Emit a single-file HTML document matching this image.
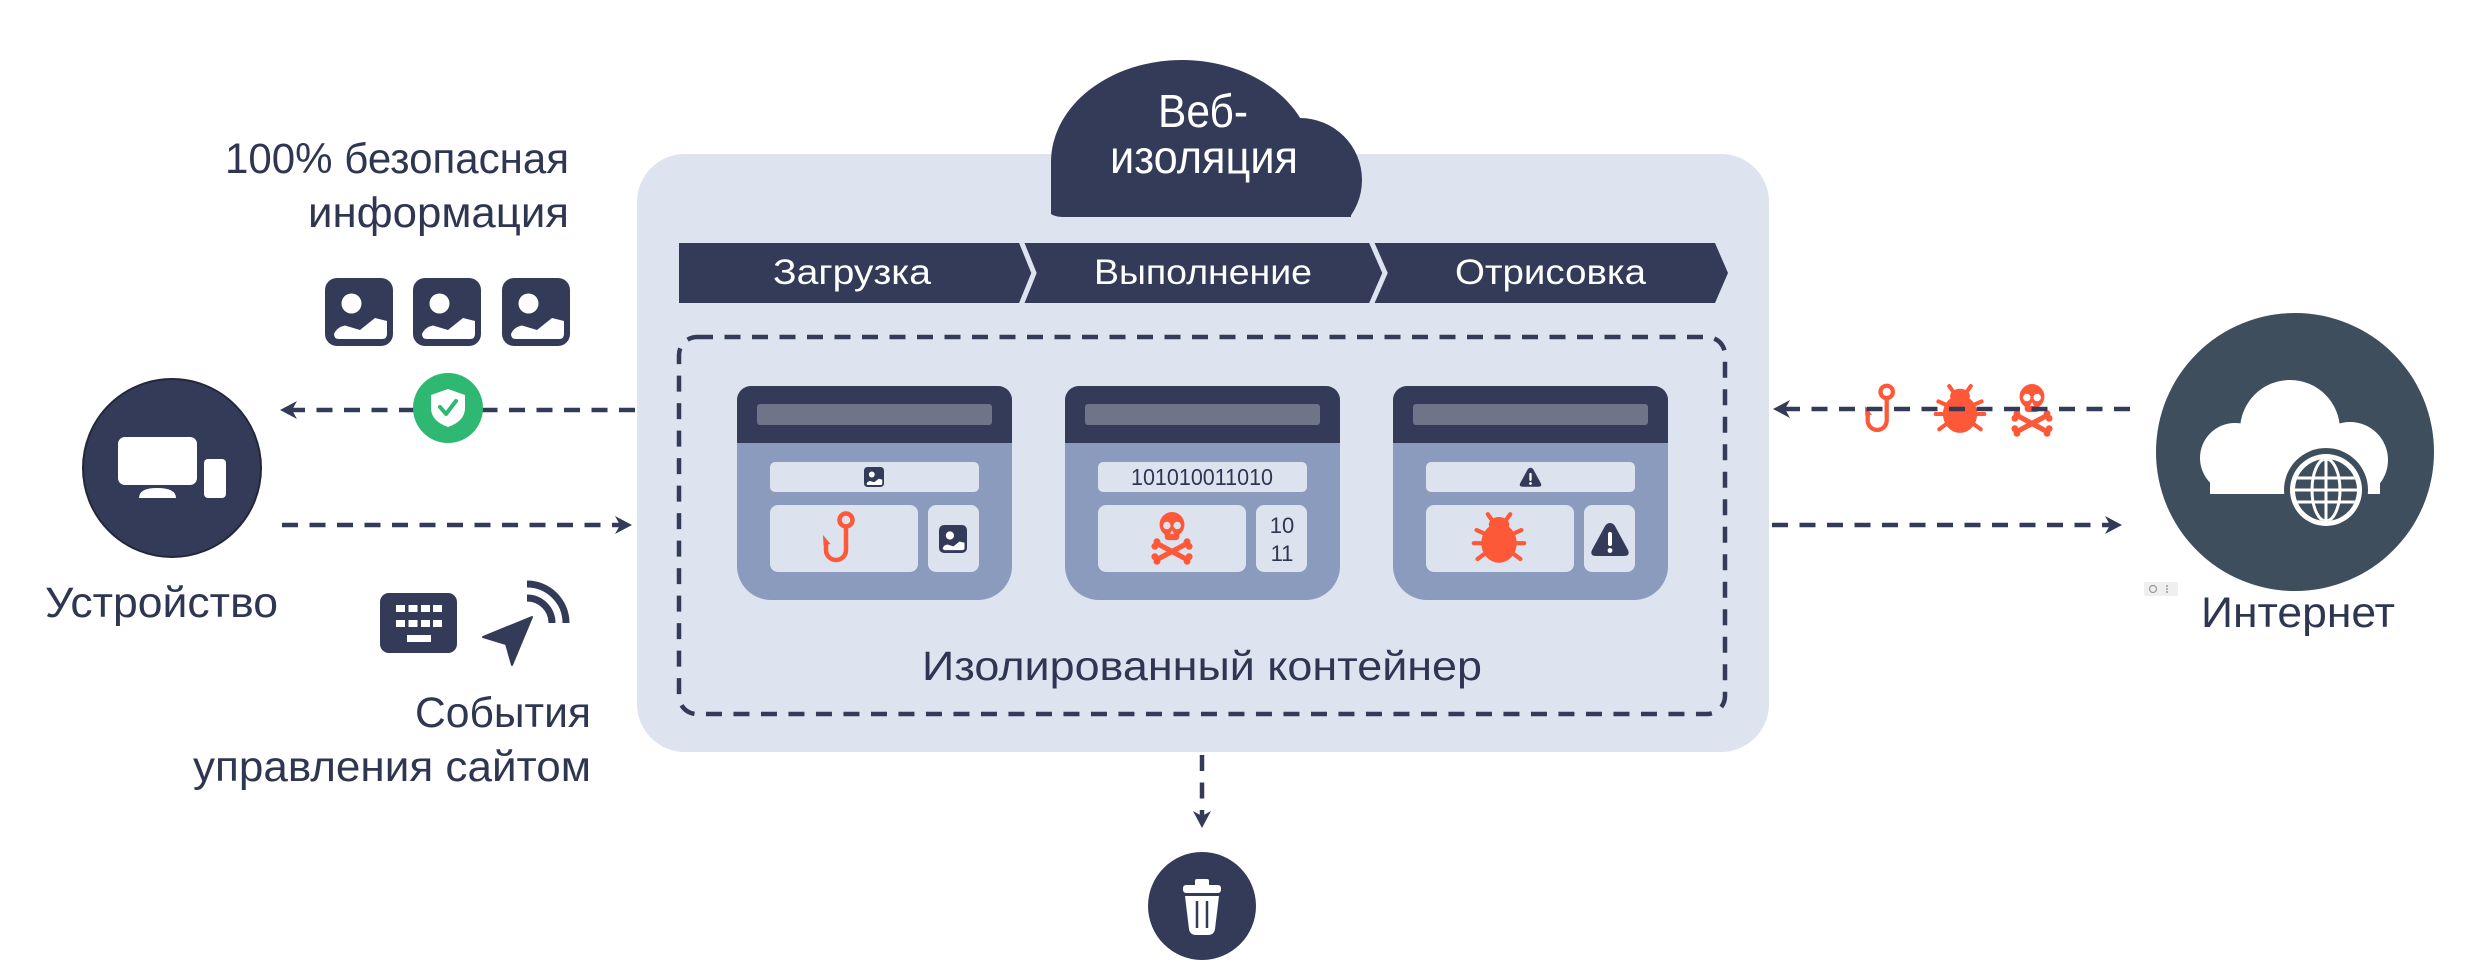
<!DOCTYPE html>
<html><head><meta charset="utf-8"><style>
html,body{margin:0;padding:0;background:#fff;}
svg{display:block;}
text{font-family:"Liberation Sans",sans-serif;}
</style></head><body>
<svg width="2485" height="970" viewBox="0 0 2485 970" xmlns="http://www.w3.org/2000/svg">
<defs>
 <symbol id="img" viewBox="0 0 68 68">
   <rect width="68" height="68" rx="12" fill="#333b58"/>
   <circle cx="26.5" cy="25.5" r="10" fill="#fff"/>
   <path d="M9 56 Q12 49 20 47.5 L35 52 L50 40 L62 43 L62 56 Q62 61 57 61 L14 61 Q9 61 9 56 Z" fill="#fff"/>
 </symbol>
 <symbol id="warn" viewBox="0 0 40 36">
   <path d="M20 1 Q23.5 1 25.5 5 L38 28 Q40.5 34 34 34 L6 34 Q-0.5 34 2 28 L14.5 5 Q16.5 1 20 1 Z" fill="#333b58"/>
   <rect x="18" y="10" width="4" height="14" rx="2" fill="#fff"/>
   <circle cx="20" cy="28.5" r="2.4" fill="#fff"/>
 </symbol>
 <symbol id="hook" viewBox="0 0 40 54">
   <circle cx="26" cy="9" r="6.5" fill="none" stroke="#fd5837" stroke-width="4.5"/>
   <path d="M26 15.5 L26 39 A10 10 0 0 1 6 39 L6 31" fill="none" stroke="#fd5837" stroke-width="4.5" stroke-linecap="round"/>
   <path d="M3 24 L10.5 33 L3.5 34 Z" fill="#fd5837"/>
 </symbol>
 <symbol id="bug" viewBox="0 0 60 56">
   <g stroke="#fd5837" stroke-width="4.5" stroke-linecap="round">
     <line x1="23" y1="9" x2="18" y2="2"/><line x1="37" y1="9" x2="42" y2="2"/>
     <line x1="15" y1="23" x2="6" y2="19"/><line x1="45" y1="23" x2="54" y2="19"/>
     <line x1="13" y1="33" x2="3" y2="33"/><line x1="47" y1="33" x2="57" y2="33"/>
     <line x1="15" y1="44" x2="7" y2="50"/><line x1="45" y1="44" x2="53" y2="50"/>
   </g>
   <ellipse cx="30" cy="13" rx="11" ry="8" fill="#fd5837"/>
   <ellipse cx="30" cy="33" rx="19" ry="21" fill="#fd5837"/>
 </symbol>
 <symbol id="skull" viewBox="0 0 40 52">
   <g stroke="#fd5837" stroke-width="5" stroke-linecap="round">
     <line x1="7" y1="32" x2="33" y2="46"/><line x1="33" y1="32" x2="7" y2="46"/>
   </g>
   <g fill="#fd5837">
     <circle cx="5.5" cy="29.5" r="3.3"/><circle cx="3.5" cy="34" r="3.3"/>
     <circle cx="34.5" cy="29.5" r="3.3"/><circle cx="36.5" cy="34" r="3.3"/>
     <circle cx="5.5" cy="48.5" r="3.3"/><circle cx="3.5" cy="44" r="3.3"/>
     <circle cx="34.5" cy="48.5" r="3.3"/><circle cx="36.5" cy="44" r="3.3"/>
     <circle cx="20" cy="13" r="12"/>
     <rect x="13" y="17" width="14" height="11" rx="3"/>
   </g>
   <circle cx="15" cy="14" r="3.6" fill="currentColor"/>
   <circle cx="25" cy="14" r="3.6" fill="currentColor"/>
   <path d="M20 18.5 L22 22 L18 22 Z" fill="currentColor"/>
 </symbol>
 <clipPath id="cloudclip"><rect x="1040" y="0" width="340" height="217" rx="22"/></clipPath>
 <clipPath id="icloudclip"><rect x="2195" y="360" width="200" height="134" rx="16"/></clipPath>
 <clipPath id="globeclip"><circle cx="2326" cy="490" r="31"/></clipPath>
</defs>

<!-- main container -->
<rect x="637" y="154" width="1132" height="598" rx="48" fill="#dde4ef"/>

<!-- cloud -->
<g clip-path="url(#cloudclip)" fill="#333b58">
  <ellipse cx="1182" cy="162" rx="131" ry="102"/>
  <circle cx="1300" cy="180" r="62"/>
  <rect x="1051" y="160" width="300" height="80"/>
</g>
<text x="1158" y="127" font-size="46" fill="#fff" textLength="90" lengthAdjust="spacingAndGlyphs">Веб-</text>
<text x="1110" y="173" font-size="46" fill="#fff" textLength="188" lengthAdjust="spacingAndGlyphs">изоляция</text>

<!-- chevron bar -->
<path d="M679 243 H1715 L1728 273 L1715 303 H679 Z" fill="#333b58"/>
<polyline points="1021,241 1034,273 1021,305" fill="none" stroke="#dde4ef" stroke-width="5"/>
<polyline points="1371,241 1385,273 1371,305" fill="none" stroke="#dde4ef" stroke-width="5"/>
<text x="773" y="284" font-size="35" fill="#fff" textLength="158" lengthAdjust="spacingAndGlyphs">Загрузка</text>
<text x="1094" y="284" font-size="35" fill="#fff" textLength="218" lengthAdjust="spacingAndGlyphs">Выполнение</text>
<text x="1455" y="284" font-size="35" fill="#fff" textLength="191" lengthAdjust="spacingAndGlyphs">Отрисовка</text>

<!-- inner dashed container -->
<rect x="679" y="337" width="1046" height="377" rx="18" fill="none" stroke="#333b58" stroke-width="4.5" stroke-dasharray="16 11.5"/>

<!-- windows -->
<g>
  <path d="M751 386 H998 A14 14 0 0 1 1012 400 V566 A34 34 0 0 1 978 600 H771 A34 34 0 0 1 737 566 V400 A14 14 0 0 1 751 386 Z" fill="#8a9bbd"/>
  <path d="M737 400 A14 14 0 0 1 751 386 H998 A14 14 0 0 1 1012 400 V443 H737 Z" fill="#333b58"/>
  <rect x="757" y="404" width="235" height="21" rx="3" fill="#6e7589"/>
  <rect x="770" y="462" width="209" height="30" rx="5" fill="#dce2ee"/>
  <rect x="770" y="505" width="148" height="67" rx="8" fill="#dce2ee"/>
  <rect x="928" y="505" width="51" height="67" rx="8" fill="#dce2ee"/>
  <use href="#img" x="864" y="467" width="20" height="20"/>
  <use href="#hook" x="820" y="511" width="40" height="54"/>
  <use href="#img" x="939" y="525" width="28" height="28"/>
</g>
<g>
  <path d="M1079 386 H1326 A14 14 0 0 1 1340 400 V566 A34 34 0 0 1 1306 600 H1099 A34 34 0 0 1 1065 566 V400 A14 14 0 0 1 1079 386 Z" fill="#8a9bbd"/>
  <path d="M1065 400 A14 14 0 0 1 1079 386 H1326 A14 14 0 0 1 1340 400 V443 H1065 Z" fill="#333b58"/>
  <rect x="1085" y="404" width="235" height="21" rx="3" fill="#6e7589"/>
  <rect x="1098" y="462" width="209" height="30" rx="5" fill="#dce2ee"/>
  <rect x="1098" y="505" width="148" height="67" rx="8" fill="#dce2ee"/>
  <rect x="1256" y="505" width="51" height="67" rx="8" fill="#dce2ee"/>
  <text x="1131" y="485" font-size="23" fill="#2f3652" textLength="142" lengthAdjust="spacingAndGlyphs">101010011010</text>
  <use href="#skull" x="1151" y="511" width="42" height="54" color="#dce2ee"/>
  <text x="1282" y="533" font-size="22" fill="#2f3652" text-anchor="middle">10</text>
  <text x="1282" y="561" font-size="22" fill="#2f3652" text-anchor="middle">11</text>
</g>
<g>
  <path d="M1407 386 H1654 A14 14 0 0 1 1668 400 V566 A34 34 0 0 1 1634 600 H1427 A34 34 0 0 1 1393 566 V400 A14 14 0 0 1 1407 386 Z" fill="#8a9bbd"/>
  <path d="M1393 400 A14 14 0 0 1 1407 386 H1654 A14 14 0 0 1 1668 400 V443 H1393 Z" fill="#333b58"/>
  <rect x="1413" y="404" width="235" height="21" rx="3" fill="#6e7589"/>
  <rect x="1426" y="462" width="209" height="30" rx="5" fill="#dce2ee"/>
  <rect x="1426" y="505" width="148" height="67" rx="8" fill="#dce2ee"/>
  <rect x="1584" y="505" width="51" height="67" rx="8" fill="#dce2ee"/>
  <use href="#warn" x="1519" y="467" width="23" height="21"/>
  <use href="#bug" x="1471" y="512" width="56" height="53"/>
  <use href="#warn" x="1590" y="522" width="40" height="36"/>
</g>
<text x="922" y="680" font-size="41" fill="#2f3652" textLength="560" lengthAdjust="spacingAndGlyphs">Изолированный контейнер</text>

<!-- down arrow + trash -->
<line x1="1202" y1="755" x2="1202" y2="816" stroke="#333b58" stroke-width="4.5" stroke-dasharray="16 11.5"/>
<path d="M1202 828 L1193 811 L1202 816 L1211 811 Z" fill="#333b58"/>
<circle cx="1202" cy="906" r="54" fill="#333b58"/>
<g fill="#fff">
  <rect x="1195" y="879" width="14" height="8" rx="2"/>
  <rect x="1183" y="885" width="38" height="8" rx="3"/>
  <path d="M1185 896 H1219 L1215 929 Q1214 935 1208 935 H1196 Q1190 935 1189 929 Z"/>
</g>
<line x1="1197" y1="901" x2="1197" y2="928" stroke="#333b58" stroke-width="2.5"/>
<line x1="1207" y1="901" x2="1207" y2="928" stroke="#333b58" stroke-width="2.5"/>

<!-- left side -->
<text x="225" y="173" font-size="43" fill="#2f3652" textLength="344" lengthAdjust="spacingAndGlyphs">100% безопасная</text>
<text x="308" y="227" font-size="43" fill="#2f3652" textLength="261" lengthAdjust="spacingAndGlyphs">информация</text>
<use href="#img" x="325" y="278" width="68" height="68"/>
<use href="#img" x="413" y="278" width="68" height="68"/>
<use href="#img" x="502" y="278" width="68" height="68"/>

<line x1="635" y1="410" x2="292" y2="410" stroke="#333b58" stroke-width="4.5" stroke-dasharray="16 11.5"/>
<path d="M280 410 L297 401 L292 410 L297 419 Z" fill="#333b58"/>
<circle cx="448" cy="408" r="35" fill="#2fb872"/>
<path d="M448 389 L465 395 L465 408 Q465 421 448 427 Q431 421 431 408 L431 395 Z" fill="#fff"/>
<path d="M440 407 L446 414 L456 401" fill="none" stroke="#2fb872" stroke-width="4" stroke-linecap="round" stroke-linejoin="round"/>

<circle cx="172" cy="468" r="89" fill="#333b58" stroke="#22283a" stroke-width="2"/>
<rect x="118" y="437" width="79" height="48" rx="7" fill="#fff"/>
<path d="M139 498 Q139 488 157 488 Q176 488 176 498 Z" fill="#fff"/>
<rect x="204" y="459" width="22" height="39" rx="4" fill="#fff"/>
<text x="45" y="617" font-size="43" fill="#2f3652" textLength="233" lengthAdjust="spacingAndGlyphs">Устройство</text>

<line x1="282" y1="525" x2="620" y2="525" stroke="#333b58" stroke-width="4.5" stroke-dasharray="16 11.5"/>
<path d="M632 525 L615 516 L620 525 L615 534 Z" fill="#333b58"/>

<rect x="380" y="593" width="77" height="60" rx="9" fill="#333b58"/>
<g fill="#fff">
  <rect x="396" y="605" width="9" height="7"/><rect x="408.5" y="605" width="9" height="7"/><rect x="421" y="605" width="9" height="7"/><rect x="433" y="605" width="9" height="7"/>
  <rect x="396" y="620" width="9" height="7"/><rect x="408.5" y="620" width="9" height="7"/><rect x="421" y="620" width="9" height="7"/><rect x="433" y="620" width="9" height="7"/>
  <rect x="407" y="635" width="24" height="7"/>
</g>
<path d="M483 637 L532 617 L512 665 L506 644 Z" fill="#333b58" stroke="#333b58" stroke-width="2" stroke-linejoin="round"/>
<path d="M527 598 A25 25 0 0 1 552 623" fill="none" stroke="#333b58" stroke-width="7"/>
<path d="M527 584 A39 39 0 0 1 566 623" fill="none" stroke="#333b58" stroke-width="7"/>

<text x="415" y="727" font-size="43" fill="#2f3652" textLength="176" lengthAdjust="spacingAndGlyphs">События</text>
<text x="193" y="781" font-size="43" fill="#2f3652" textLength="398" lengthAdjust="spacingAndGlyphs">управления сайтом</text>

<!-- right side -->
<use href="#hook" x="1862" y="383" width="38" height="52"/>
<use href="#bug" x="1933" y="384" width="54" height="51"/>
<use href="#skull" x="2011" y="383" width="42" height="54" color="#ffffff"/>
<line x1="2130" y1="409" x2="1785" y2="409" stroke="#333b58" stroke-width="4.5" stroke-dasharray="16 11.5"/>
<path d="M1773 409 L1790 400 L1785 409 L1790 418 Z" fill="#333b58"/>
<line x1="1772" y1="525" x2="2110" y2="525" stroke="#333b58" stroke-width="4.5" stroke-dasharray="16 11.5"/>
<path d="M2122 525 L2105 516 L2110 525 L2105 534 Z" fill="#333b58"/>

<circle cx="2295" cy="452" r="139" fill="#3f4e5c"/>
<g clip-path="url(#icloudclip)" fill="#fff">
  <circle cx="2235" cy="458" r="35"/>
  <circle cx="2290" cy="430" r="50"/>
  <circle cx="2350" cy="460" r="38"/>
  <rect x="2210" y="455" width="170" height="50"/>
</g>
<circle cx="2326" cy="490" r="42" fill="#3f4e5c"/>
<circle cx="2326" cy="490" r="36" fill="#fff"/>
<circle cx="2326" cy="490" r="31" fill="#3f4e5c"/>
<g clip-path="url(#globeclip)" stroke="#fff" stroke-width="3" fill="none">
  <line x1="2290" y1="478" x2="2362" y2="478"/>
  <line x1="2290" y1="490" x2="2362" y2="490"/>
  <line x1="2290" y1="502" x2="2362" y2="502"/>
  <line x1="2326" y1="455" x2="2326" y2="525"/>
  <ellipse cx="2326" cy="490" rx="14" ry="31"/>
</g>
<rect x="2144" y="582" width="34" height="14" rx="2" fill="#efefef"/>
<circle cx="2153" cy="589" r="3.5" fill="none" stroke="#999" stroke-width="1.2"/>
<circle cx="2167" cy="586" r="1" fill="#999"/><circle cx="2167" cy="589" r="1" fill="#999"/><circle cx="2167" cy="592" r="1" fill="#999"/>
<text x="2201" y="627" font-size="43" fill="#2f3652" textLength="194" lengthAdjust="spacingAndGlyphs">Интернет</text>
</svg>
</body></html>
